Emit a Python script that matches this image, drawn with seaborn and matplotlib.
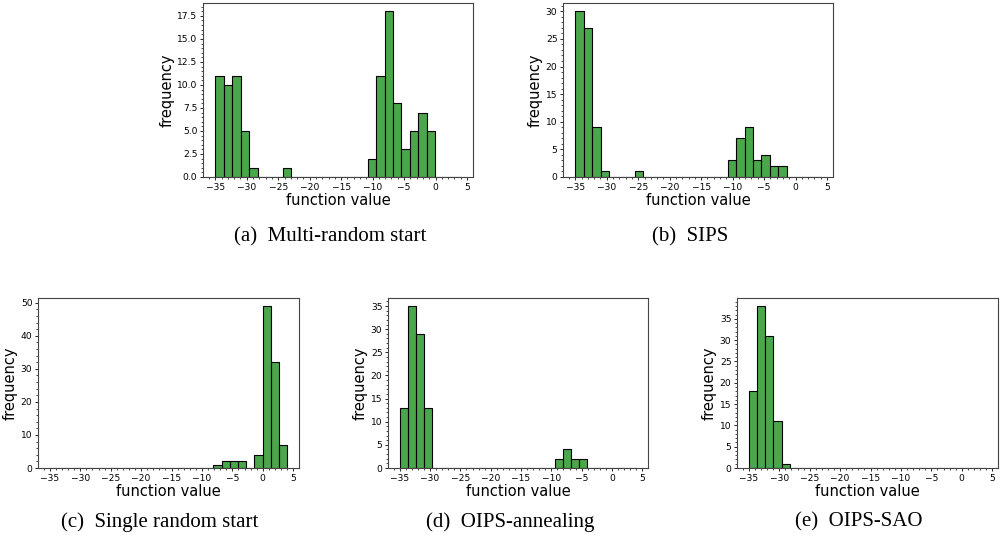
import numpy as np
import pandas as pd
import matplotlib
matplotlib.use("Agg")
import matplotlib.pyplot as plt
import seaborn as sns

# shared histogram bins: 29 bins from -35 to 4
n_bins = 29
bin_range = (-35, 4)
edges = np.linspace(bin_range[0], bin_range[1], n_bins + 1)
centers = (edges[:-1] + edges[1:]) / 2

# bin counts
counts_multi = [11, 10, 11, 5, 1, 0, 0, 0, 1, 0, 0, 0, 0, 0, 0, 0, 0, 0,
                2, 11, 18, 8, 3, 5, 7, 5, 0, 0, 0]
counts_sips = [30, 27, 9, 1, 0, 0, 0, 1, 0, 0, 0, 0, 0, 0, 0, 0, 0, 0,
               3, 7, 9, 3, 4, 2, 2, 0, 0, 0, 0]
counts_single = [0, 0, 0, 0, 0, 0, 0, 0, 0, 0, 0, 0, 0, 0, 0, 0, 0, 0,
                 0, 0, 1, 2, 2, 2, 0, 4, 49, 32, 7]
counts_anneal = [13, 35, 29, 13, 0, 0, 0, 0, 0, 0, 0, 0, 0, 0, 0, 0, 0, 0,
                 0, 2, 4, 2, 2, 0, 0, 0, 0, 0, 0]
counts_sao = [18, 38, 31, 11, 1, 0, 0, 0, 0, 0, 0, 0, 0, 0, 0, 0, 0, 0,
              0, 0, 0, 0, 0, 0, 0, 0, 0, 0, 0]

captions = ["(a)  Multi-random start", "(b)  SIPS", "(c)  Single random start",
            "(d)  OIPS-annealing", "(e)  OIPS-SAO"]

W, H = 1003, 540
# axes boxes in pixels: left, right, top, bottom
boxes = [(203, 473, 3, 177), (563, 833, 3, 177),
         (38, 299, 298, 468), (388, 648, 298, 468), (737, 998, 298, 468)]
cap_pos = [(330, 237), (690, 237), (160, 522), (510, 522), (859, 522)]

fig = plt.figure(figsize=(W / 100, H / 100), dpi=100)

for counts, box, cap, cp in zip(
        [counts_multi, counts_sips, counts_single, counts_anneal, counts_sao],
        boxes, captions, cap_pos):
    l, r, t, b = box
    ax = fig.add_axes([l / W, 1 - b / H, (r - l) / W, (b - t) / H])
    df = pd.DataFrame({"value": centers, "count": counts})
    sns.histplot(data=df, x="value", weights="count", bins=n_bins,
                 binrange=bin_range, ax=ax,
                 color="green", alpha=0.7, edgecolor="black", linewidth=0.8)
    ax.minorticks_on()
    ax.tick_params(which="major", labelsize=6.6, length=2.5, width=0.6, pad=1.5)
    ax.tick_params(which="minor", length=1.5, width=0.5)
    for s in ax.spines.values():
        s.set_linewidth(0.8)
        s.set_color("#444444")
    ax.set_xlabel("function value", fontsize=10.5, labelpad=1)
    ax.set_ylabel("frequency", fontsize=10.5, labelpad=2)
    fig.text(cp[0] / W, 1 - cp[1] / H, cap, ha="center", va="center",
             fontsize=15, family="Liberation Serif")

fig.savefig("out.png", dpi=100)
